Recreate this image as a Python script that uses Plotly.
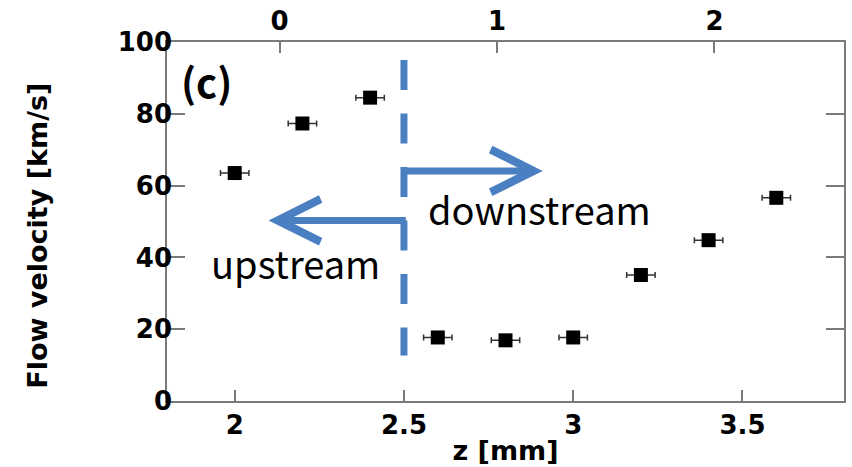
import plotly.graph_objects as go

# Measured flow velocity vs axial position
z_mm = [2.0, 2.2, 2.4, 2.6, 2.8, 3.0, 3.2, 3.4, 3.6]
velocity_kms = [63.5, 77.3, 84.5, 17.7, 16.9, 17.7, 35.1, 44.8, 56.6]
z_err_mm = [0.042] * 9

# Boundary between upstream and downstream regions
boundary_z = [2.5, 2.5]
boundary_v = [95.0, 12.7]

# Direction arrows: (tail_z, head_z, velocity)
downstream_arrow = (2.49, 2.91, 64.1)
upstream_arrow = (2.51, 2.10, 50.3)

bottom_ticks = [2, 2.5, 3, 3.5]
bottom_tick_text = ["2", "2.5", "3", "3.5"]
top_ticks = [0, 1, 2]
y_ticks = [0, 20, 40, 60, 80, 100]

BLUE = "#4a7fc1"
AXIS_GREY = "#7a7a7a"
TICK_FONT = dict(family="DejaVu Sans", size=26, color="black", weight="bold")

W, H = 852, 467
L, R, T, B = 167, 6, 39, 66
pw, ph = W - L - R, H - T - B


def px_to_paper(x, y):
    return (x - L) / pw, 1 - (y - T) / ph


fig = go.Figure()

fig.add_trace(go.Scatter(
    x=boundary_z, y=boundary_v, mode="lines",
    line=dict(color=BLUE, width=7, dash="30px,23.5px"),
    hoverinfo="skip", showlegend=False,
))

fig.add_trace(go.Scatter(
    x=z_mm, y=velocity_kms, mode="markers",
    marker=dict(symbol="square", size=14, color="black"),
    error_x=dict(type="data", array=z_err_mm, color="#333333",
                 thickness=1.5, width=3),
    showlegend=False,
))

for tail, head, v in (downstream_arrow, upstream_arrow):
    fig.add_annotation(
        x=head, y=v, ax=tail, ay=v, xref="x", yref="y", axref="x", ayref="y",
        text="", showarrow=True, arrowhead=5, arrowsize=1.2,
        arrowwidth=7, arrowcolor=BLUE,
    )

labels = [
    ("downstream", 541, 207, dict(family="Noto Sans CJK JP", size=38, color="black"), 0),
    ("upstream", 296, 261, dict(family="Noto Sans CJK JP", size=38, color="black"), 0),
    ("(c)", 207, 78, dict(family="Noto Sans CJK JP", size=40, color="black", weight="bold"), 0),
    ("Flow velocity [km/s]", 37, 234,
     dict(family="DejaVu Sans", size=27, color="black", weight="bold"), -90),
]
for text, px, py, font, angle in labels:
    xp, yp = px_to_paper(px, py)
    fig.add_annotation(x=xp, y=yp, xref="paper", yref="paper", text=text,
                       showarrow=False, xanchor="center", yanchor="middle",
                       font=font, textangle=angle)

fig.update_layout(
    width=W, height=H,
    margin=dict(l=L, r=R, t=T, b=B),
    paper_bgcolor="white", plot_bgcolor="white",
    xaxis=dict(
        range=[1.8, 3.8], tickvals=bottom_ticks, ticktext=bottom_tick_text,
        ticks="inside", ticklen=11, tickwidth=1.5, tickcolor=AXIS_GREY,
        showline=True, linecolor=AXIS_GREY, linewidth=1.5, mirror=False,
        showgrid=False, zeroline=False, tickfont=TICK_FONT,
        title=dict(text="z [mm]", standoff=2,
                   font=dict(family="DejaVu Sans", size=27, color="black",
                             weight="bold")),
    ),
    xaxis2=dict(
        overlaying="x", side="top", range=[-0.518, 2.596], tickvals=top_ticks,
        ticks="inside", ticklen=11, tickwidth=1.5, tickcolor=AXIS_GREY,
        showline=True, linecolor=AXIS_GREY, linewidth=1.5,
        showgrid=False, zeroline=False, tickfont=TICK_FONT,
    ),
    yaxis=dict(
        range=[0, 100], tickvals=y_ticks,
        ticks="inside", ticklen=18, tickwidth=1.5, tickcolor=AXIS_GREY,
        showline=True, linecolor=AXIS_GREY, linewidth=1.5, mirror="ticks",
        showgrid=False, zeroline=False, tickfont=TICK_FONT,
        ticklabelstandoff=-12,
    ),
)

# invisible trace keeps the top axis active
fig.add_trace(go.Scatter(x=[0], y=[None], xaxis="x2", mode="markers",
                         showlegend=False, hoverinfo="skip"))

fig.write_html("out.html")
